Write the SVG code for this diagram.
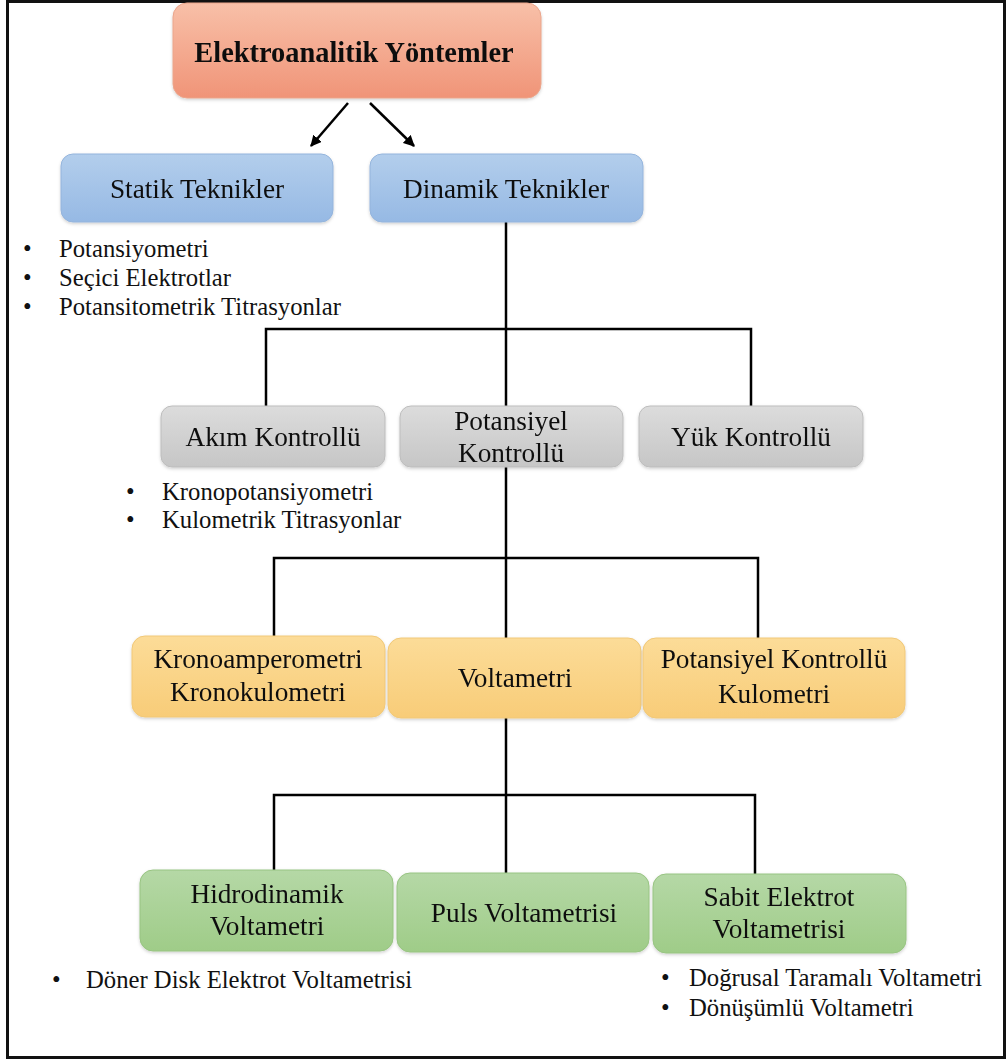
<svg xmlns="http://www.w3.org/2000/svg" width="1008" height="1061" viewBox="0 0 1008 1061">
<style>
text{font-family:"Liberation Serif","Times New Roman",serif;fill:#111;}
.lbl{font-size:27.3px;text-anchor:middle;}
.title{font-size:28.4px;font-weight:bold;text-anchor:middle;}
.bul{font-size:24.7px;}
.conn{stroke:#000;stroke-width:2.5;fill:none;}
.box{stroke-width:1;}
.salmon{fill:url(#gSalmon);stroke:#eaa58b;}
.blue{fill:url(#gBlue);stroke:#94b4dc;}
.gray{fill:url(#gGray);stroke:#bdbdbd;}
.orange{fill:url(#gOrange);stroke:#f1c878;}
.green{fill:url(#gGreen);stroke:#98c482;}
</style>
<defs>
<linearGradient id="gSalmon" x1="0" y1="0" x2="0" y2="1"><stop offset="0" stop-color="#f8c0a8"/><stop offset="1" stop-color="#f09478"/></linearGradient>
<linearGradient id="gBlue" x1="0" y1="0" x2="0" y2="1"><stop offset="0" stop-color="#b3ceec"/><stop offset="1" stop-color="#96b9e4"/></linearGradient>
<linearGradient id="gGray" x1="0" y1="0" x2="0" y2="1"><stop offset="0" stop-color="#dcdcdc"/><stop offset="1" stop-color="#c6c6c6"/></linearGradient>
<linearGradient id="gOrange" x1="0" y1="0" x2="0" y2="1"><stop offset="0" stop-color="#fcdc98"/><stop offset="1" stop-color="#f8cc78"/></linearGradient>
<linearGradient id="gGreen" x1="0" y1="0" x2="0" y2="1"><stop offset="0" stop-color="#b5d8a6"/><stop offset="1" stop-color="#9fcc88"/></linearGradient>
<filter id="sh" x="-5%" y="-10%" width="110%" height="125%"><feDropShadow dx="0" dy="1.5" stdDeviation="1.5" flood-color="#000" flood-opacity="0.18"/></filter>
<marker id="arr" viewBox="0 0 10 10" refX="9" refY="5" markerWidth="4.5" markerHeight="4.5" orient="auto" markerUnits="strokeWidth"><path d="M0,0 L10,5 L0,10 z" fill="#000"/></marker>
</defs>
<rect x="0" y="0" width="1008" height="1061" fill="#fff"/>
<rect x="7.5" y="1.5" width="997" height="1056" fill="none" stroke="#111" stroke-width="3"/>

<g id="connectors">
<line class="conn" x1="348" y1="103" x2="311" y2="146" marker-end="url(#arr)"/>
<line class="conn" x1="370" y1="103" x2="414" y2="146" marker-end="url(#arr)"/>
<polyline class="conn" points="506,222 506,406"/>
<polyline class="conn" points="266,406 266,329 751,329 751,406"/>
<polyline class="conn" points="506,467 506,638"/>
<polyline class="conn" points="274,636 274,558 758,558 758,638"/>
<polyline class="conn" points="506,718 506,873"/>
<polyline class="conn" points="274,870 274,795 755,795 755,874"/>
</g>

<g id="n-elektroanalitik" filter="url(#sh)">
<rect class="box salmon" x="173" y="3" width="368" height="95" rx="14"/>
<text class="title" x="354" y="62">Elektroanalitik Yöntemler</text>
</g>

<g id="n-statik" filter="url(#sh)">
<rect class="box blue" x="61" y="154" width="272" height="68" rx="12"/>
<text class="lbl" x="197" y="198">Statik Teknikler</text>
</g>
<g id="n-dinamik" filter="url(#sh)">
<rect class="box blue" x="370" y="154" width="273" height="68" rx="12"/>
<text class="lbl" x="506" y="198">Dinamik Teknikler</text>
</g>
<g id="l-statik">
<text class="bul" x="23" y="257">•</text><text class="bul" x="59" y="257">Potansiyometri</text>
<text class="bul" x="23" y="286">•</text><text class="bul" x="59" y="286">Seçici Elektrotlar</text>
<text class="bul" x="23" y="315">•</text><text class="bul" x="59" y="315">Potansitometrik Titrasyonlar</text>
</g>

<g id="n-akim" filter="url(#sh)">
<rect class="box gray" x="161" y="406" width="224" height="61" rx="11"/>
<text class="lbl" x="273" y="446">Akım Kontrollü</text>
</g>
<g id="n-potansiyel" filter="url(#sh)">
<rect class="box gray" x="400" y="406" width="223" height="61" rx="11"/>
<text class="lbl" x="511" y="430">Potansiyel</text>
<text class="lbl" x="511" y="462">Kontrollü</text>
</g>
<g id="n-yuk" filter="url(#sh)">
<rect class="box gray" x="639" y="406" width="224" height="61" rx="11"/>
<text class="lbl" x="751" y="446">Yük Kontrollü</text>
</g>
<g id="l-akim">
<text class="bul" x="126" y="500">•</text><text class="bul" x="162" y="500">Kronopotansiyometri</text>
<text class="bul" x="126" y="528">•</text><text class="bul" x="162" y="528">Kulometrik Titrasyonlar</text>
</g>

<g id="n-krono" filter="url(#sh)">
<rect class="box orange" x="132" y="636" width="253" height="81" rx="13"/>
<text class="lbl" x="258" y="668">Kronoamperometri</text>
<text class="lbl" x="258" y="701">Kronokulometri</text>
</g>
<g id="n-voltametri" filter="url(#sh)">
<rect class="box orange" x="388" y="638" width="253" height="80" rx="13"/>
<text class="lbl" x="515" y="687">Voltametri</text>
</g>
<g id="n-pkk" filter="url(#sh)">
<rect class="box orange" x="643" y="638" width="262" height="80" rx="13"/>
<text class="lbl" x="774" y="668">Potansiyel Kontrollü</text>
<text class="lbl" x="774" y="703">Kulometri</text>
</g>

<g id="n-hidro" filter="url(#sh)">
<rect class="box green" x="140" y="870" width="253" height="81" rx="13"/>
<text class="lbl" x="267" y="903">Hidrodinamik</text>
<text class="lbl" x="267" y="935">Voltametri</text>
</g>
<g id="n-puls" filter="url(#sh)">
<rect class="box green" x="397" y="873" width="252" height="79" rx="13"/>
<text class="lbl" x="524" y="922">Puls Voltametrisi</text>
</g>
<g id="n-sabit" filter="url(#sh)">
<rect class="box green" x="653" y="874" width="253" height="79" rx="13"/>
<text class="lbl" x="779" y="906">Sabit Elektrot</text>
<text class="lbl" x="779" y="938">Voltametrisi</text>
</g>
<g id="l-hidro">
<text class="bul" x="52" y="988">•</text><text class="bul" x="86" y="988">Döner Disk Elektrot Voltametrisi</text>
</g>
<g id="l-sabit">
<text class="bul" x="661" y="986">•</text><text class="bul" x="689" y="986">Doğrusal Taramalı Voltametri</text>
<text class="bul" x="661" y="1016">•</text><text class="bul" x="689" y="1016">Dönüşümlü Voltametri</text>
</g>
</svg>
